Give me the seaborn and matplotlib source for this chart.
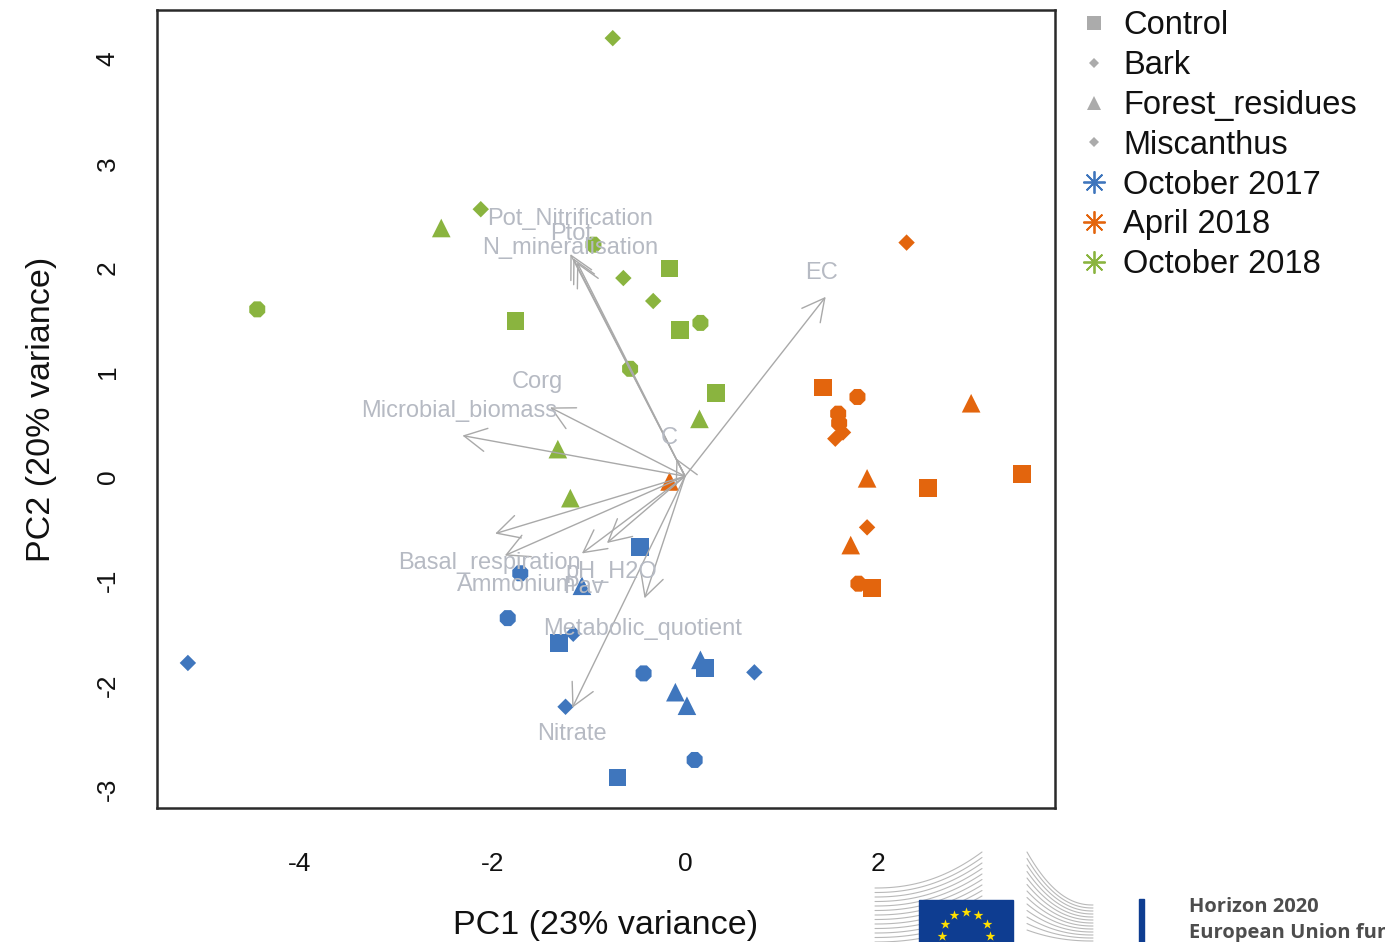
import numpy as np
import pandas as pd
import seaborn as sns
import matplotlib
matplotlib.use("Agg")
from matplotlib import pyplot as plt
from matplotlib.lines import Line2D
from matplotlib.patches import Rectangle

# sample scores, 4 replicates per treatment
treatments = ["Control", "Bark", "Forest_residues", "Miscanthus"]
dates = ["October 2017", "April 2018", "October 2018"]

oct17_pc1 = [-0.47, -1.31, 0.21, -0.70,
             -1.16, -5.16, 0.72, -1.24,
             -1.07, 0.16, -0.10, 0.02,
             -1.71, -1.84, -0.43, 0.10]
oct17_pc2 = [-0.68, -1.60, -1.84, -2.89,
             -1.51, -1.79, -1.88, -2.21,
             -1.05, -1.76, -2.07, -2.20,
             -0.93, -1.36, -1.89, -2.72]

apr18_pc1 = [1.43, 2.52, 3.50, 1.94,
             2.30, 1.89, 1.64, 1.56,
             2.97, 1.89, 1.72, -0.16,
             1.79, 1.59, 1.60, 1.80]
apr18_pc2 = [0.85, -0.11, 0.02, -1.07,
             2.24, -0.49, 0.42, 0.36,
             0.70, -0.02, -0.66, -0.05,
             0.76, 0.60, 0.51, -1.03]

oct18_pc1 = [-0.16, -1.76, -0.05, 0.32,
             -0.75, -2.12, -0.64, -0.33,
             -2.53, 0.15, -1.32, -1.19,
             -0.95, 0.16, -4.44, -0.57]
oct18_pc2 = [1.99, 1.49, 1.40, 0.80,
             4.20, 2.56, 1.90, 1.68,
             2.38, 0.55, 0.26, -0.21,
             2.22, 1.47, 1.60, 1.03]

# variable loadings (arrow tips) and where their names sit
var_names = ["Pot_Nitrification", "Ptot", "N_mineralisation", "EC", "Corg",
             "Microbial_biomass", "C", "Basal_respiration", "Ammonium",
             "pH_H2O", "Pav", "Metabolic_quotient", "Nitrate"]
load_pc1 = [-1.19, -1.16, -1.12, 1.46, -1.40, -2.31, -0.09, -1.97, -1.87,
            -0.81, -1.07, -0.42, -1.17]
load_pc2 = [2.13, 2.09, 2.05, 1.72, 0.66, 0.39, 0.17, -0.55, -0.76,
            -0.64, -0.74, -1.17, -2.22]
label_pc1 = [-1.19, -1.18, -1.19, 1.42, -1.53, -2.34, -0.16, -2.03, -1.75,
             -0.76, -1.05, -0.44, -1.17]
label_pc2 = [2.47, 2.32, 2.19, 1.95, 0.90, 0.63, 0.37, -0.83, -1.04,
             -0.92, -1.06, -1.46, -2.47]

palette = {"October 2017": "#3f76bd", "April 2018": "#e3650d",
           "October 2018": "#8ab43f"}
markers = {"Control": "s", "Bark": "D", "Forest_residues": "^", "Miscanthus": "8"}
sizes = {"Control": 160, "Bark": 70, "Forest_residues": 180, "Miscanthus": 155}

frames = []
for date, xs, ys in [("October 2017", oct17_pc1, oct17_pc2),
                     ("April 2018", apr18_pc1, apr18_pc2),
                     ("October 2018", oct18_pc1, oct18_pc2)]:
    frames.append(pd.DataFrame({"PC1": xs, "PC2": ys, "Date": date,
                                "Treatment": np.repeat(treatments, 4)}))
df = pd.concat(frames, ignore_index=True)

sns.set_style("white")
plt.rcParams["font.family"] = ["Liberation Sans", "DejaVu Sans"]
plt.rcParams["axes.unicode_minus"] = False
plt.rcParams["text.color"] = "#111111"
plt.rcParams["axes.labelcolor"] = "#111111"
plt.rcParams["xtick.color"] = "#111111"
plt.rcParams["ytick.color"] = "#111111"

fig = plt.figure(figsize=(13.85, 9.42), dpi=100)
ax = fig.add_axes([0.1134, 0.1423, 0.6483, 0.8471])

for tr in treatments:
    sub = df[df["Treatment"] == tr]
    sns.scatterplot(data=sub, x="PC1", y="PC2", hue="Date", palette=palette,
                    marker=markers[tr], s=sizes[tr], linewidth=0, legend=False,
                    ax=ax, zorder=2)

arrow_grey = "#a9a9a9"
for name, x, y, tx, ty in zip(var_names, load_pc1, load_pc2, label_pc1, label_pc2):
    ax.annotate("", xy=(x, y), xytext=(0, 0),
                arrowprops=dict(arrowstyle="->,head_length=0.8,head_width=0.42",
                                color=arrow_grey, lw=1.0, mutation_scale=20,
                                shrinkA=0, shrinkB=0), zorder=3)
    ax.text(tx, ty, name, color="#b6bac3", fontsize=17, ha="center",
            va="center", zorder=4)

ax.set_xlim(-5.48, 3.84)
ax.set_ylim(-3.18, 4.47)
ax.set_xticks([-4, -2, 0, 2])
ax.set_yticks(range(-3, 5))
ax.set_xlabel("PC1 (23% variance)", fontsize=24.5, labelpad=24)
ax.set_ylabel("PC2 (20% variance)", fontsize=24.5, labelpad=28)
ax.tick_params(axis="both", direction="out", length=13, width=1.5,
               color="#333333", labelsize=19, pad=19)
ax.tick_params(axis="y", labelrotation=90, pad=14)
for t in ax.get_yticklabels():
    t.set_va("center")
for sp in ax.spines.values():
    sp.set_color("#2a2a2a")
    sp.set_linewidth(1.8)

# legend: grey shapes for treatments, asterisks for dates
grey = "#ababab"
handles = [
    Line2D([], [], ls="", marker="s", ms=9.5, color=grey, mew=0),
    Line2D([], [], ls="", marker="D", ms=5.5, color=grey, mew=0),
    Line2D([], [], ls="", marker="^", ms=10.5, color=grey, mew=0),
    Line2D([], [], ls="", marker="D", ms=5.5, color=grey, mew=0),
]
labels = list(treatments)
for d in dates:
    handles.append(Line2D([], [], ls="", marker=(8, 2, 0), ms=16, mew=1.3,
                          color=palette[d]))
    labels.append(d)
fig.legend(handles, labels, loc="upper left", bbox_to_anchor=(0.7805, 0.989),
           frameon=False, fontsize=23.5, handlelength=0.8, handletextpad=0.5,
           labelspacing=0.27, borderpad=0, borderaxespad=0)

# funding logo strip in the bottom right corner, drawn in pixel space
deco = fig.add_axes([0, 0, 1, 1], zorder=5)
deco.set_xlim(0, 1385)
deco.set_ylim(942, 0)
deco.axis("off")
deco.patch.set_alpha(0)

t = np.linspace(0, 1, 30)
for i in range(13):
    # left wing of the building outline
    y0 = 888 + i * 4.5
    y1 = 852 + i * 5.5
    xs = 875 + (982 - 875) * t
    ys = y0 + (y1 - y0) * t ** 2.2
    deco.plot(xs, ys, color="#b9b9b9", lw=0.8)
    # right wing
    y0r = 852 + i * 6.5
    y1r = 905 + i * 3
    xr = 1027 + (1093 - 1027) * t
    yr = y0r + (y1r - y0r) * (1 - (1 - t) ** 2.2)
    deco.plot(xr, yr, color="#b9b9b9", lw=0.8)

flag = Rectangle((919, 900), 94, 45, color="#0e3d91", zorder=6)
deco.add_patch(flag)
ang = np.linspace(0, 2 * np.pi, 12, endpoint=False)
stars = deco.scatter(966 + 24 * np.cos(ang), 936 + 24 * np.sin(ang), marker="*",
                     s=55, color="#ffe000", linewidth=0, zorder=7)
stars.set_clip_path(flag)
deco.add_patch(Rectangle((1139, 899), 5, 45, color="#0e3d91"))
deco.text(1189, 907, "Horizon 2020", fontsize=14.5, color="#4d4d4d",
          fontweight="bold", family="Open Sans", va="center")
deco.text(1189, 933, "European Union funding", fontsize=14.5, color="#4d4d4d",
          fontweight="bold", family="Open Sans", va="center")

fig.savefig("out.png", dpi=100)
